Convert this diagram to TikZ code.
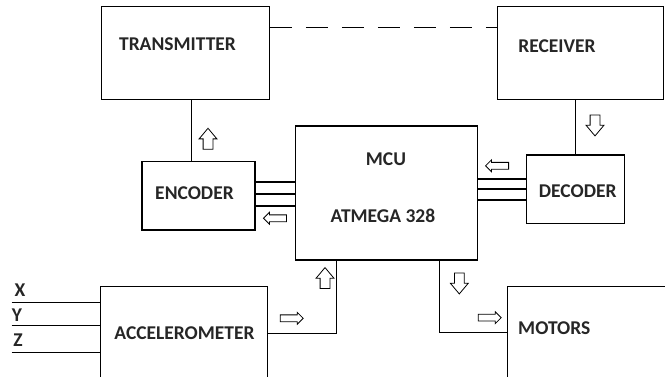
\documentclass[tikz,border=0pt]{standalone}
\usepackage{fontspec}
\setmainfont{Carlito}
\usetikzlibrary{shapes.arrows}

\begin{document}
\begin{tikzpicture}[x=1pt, y=-1pt, line width=1.1pt,
    block/.style={draw, inner sep=0pt},
    lbl/.style={font=\fontsize{19.5}{24}\selectfont\bfseries, text=black!85, inner sep=0pt},
    varrow/.style={single arrow, draw, line width=0.8pt, inner sep=4.5pt,
        minimum height=21pt, single arrow head extend=4pt, single arrow tip angle=80},
    harrow/.style={single arrow, draw, line width=0.8pt, inner sep=3pt,
        minimum height=23pt, single arrow head extend=2.5pt, single arrow tip angle=90}]
    \clip (0,0) rectangle (665,377);

    % blocks
    \node[block, minimum width=167.6pt, minimum height=93.3pt] (tx) at (185.5,53.3) {};
    \node[block, minimum width=166.3pt, minimum height=93.3pt] (rx) at (580.2,53.3) {};
    \node[block, minimum width=113pt, minimum height=68.7pt] (enc) at (198.5,195.7) {};
    \node[block, minimum width=182.3pt, minimum height=134pt] (mcu) at (386.2,193) {};
    \node[block, minimum width=98.3pt, minimum height=68.3pt] (dec) at (575.2,189.2) {};
    \node[block, minimum width=167.7pt, minimum height=110pt] (acc) at (183.9,341.7) {};
    \node[block, minimum width=162pt, minimum height=110pt] (mot) at (588.7,341.7) {};

    % texts
    \node[lbl] (txtext) at (177.5,44) {TRANSMITTER};
    \node[lbl] (rxtext) at (557,45.7) {RECEIVER};
    \node[lbl] (enctext) at (194.5,193.3) {ENCODER};
    \node[lbl] (mcutext) at (386,159.3) {MCU};
    \node[lbl] (chiptext) at (383,216) {ATMEGA 328};
    \node[lbl] (dectext) at (577.7,190.7) {DECODER};
    \node[lbl] (acctext) at (184.5,333.3) {ACCELEROMETER};
    \node[lbl] (mottext) at (554.3,327.7) {MOTORS};

    % radio link
    \draw[dash pattern=on 22pt off 14pt] (tx.east |- 0,27.3) -- (rx.west |- 0,27.3);

    % wires
    \draw (enc.north -| 191.3,0) -- (tx.south -| 191.3,0);
    \draw (dec.north) -- (dec.north |- rx.south);
    \foreach \y in {182,194,206}
        \draw (enc.east |- 0,\y) -- (mcu.west |- 0,\y);
    \foreach \y in {179,189,200}
        \draw (mcu.east |- 0,\y) -- (dec.west |- 0,\y);
    \draw (acc.east |- 0,333.3) -| (mcu.south -| 336.7,0);
    \draw (mcu.south -| 439.3,0) |- (mot.west |- 0,332.7);

    % axes
    \foreach \y/\t/\lx/\ly in {302.7/X/20/290, 325.7/Y/17/315, 352.7/Z/18/340} {
        \coordinate (in\t) at (11.7,\y);
        \draw (in\t) -- (acc.west |- in\t);
        \node[lbl] (ax\t) at (\lx,\ly) {\t};
    }

    % flow arrows
    \node[varrow, shape border rotate=90] (up1) at (208,141.7) {};
    \node[varrow, shape border rotate=270] (down1) at (595,122.5) {};
    \node[harrow, shape border rotate=180] (left1) at (276.7,218.3) {};
    \node[harrow, shape border rotate=180] (left2) at (498.8,165.8) {};
    \node[varrow, shape border rotate=90] (up2) at (325,281) {};
    \node[harrow] (right1) at (290,318.3) {};
    \node[varrow, shape border rotate=270] (down2) at (459.3,280.5) {};
    \node[harrow] (right2) at (488,317.7) {};
\end{tikzpicture}
\end{document}
